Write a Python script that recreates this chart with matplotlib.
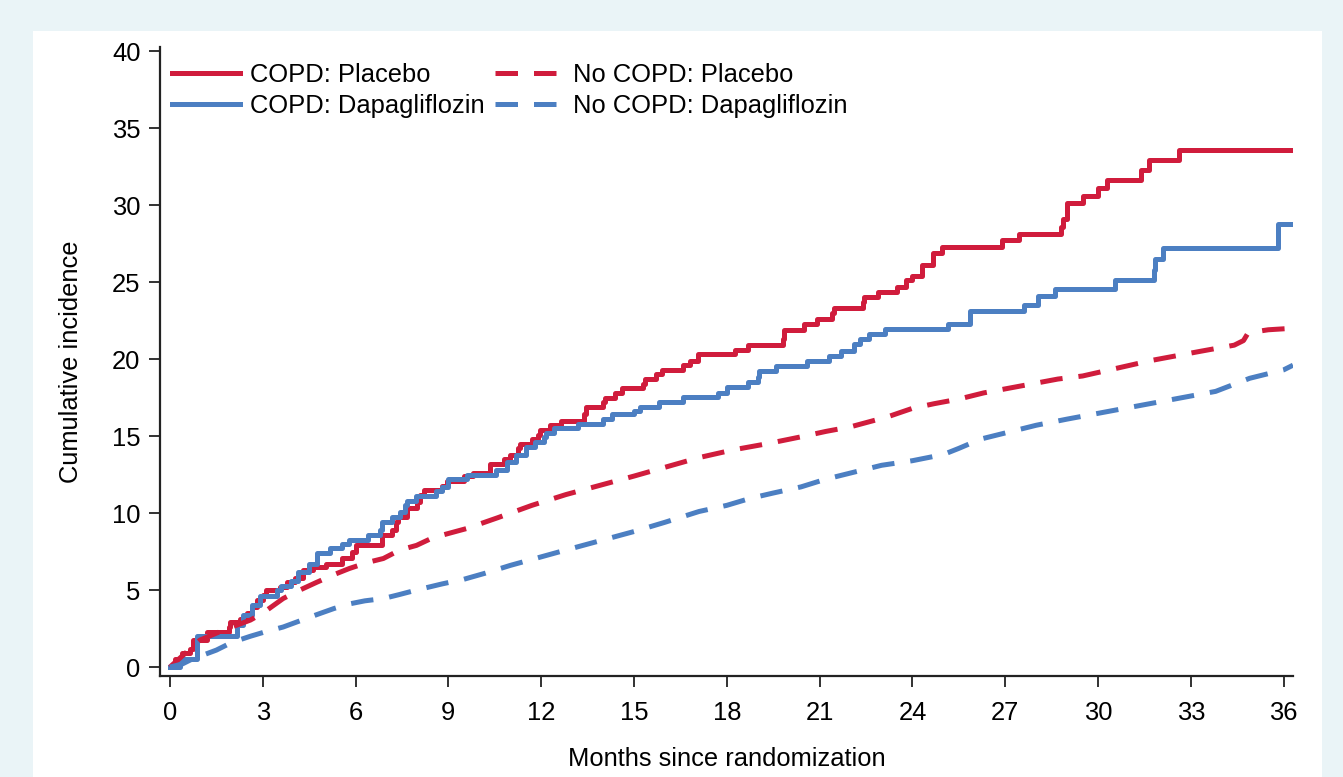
import numpy as np
import matplotlib
matplotlib.use("Agg")
import matplotlib.pyplot as plt
from matplotlib.patches import Rectangle

# ---------------------------------
# Data (months, cumulative incidence %)
# ---------------------------------
copd_pla_t = [0, 0.16, 0.38, 0.65, 0.75, 1.2, 1.9, 1.95, 2.26, 2.5, 2.64, 2.8, 3.0, 3.12,
              3.55, 3.8, 4.05, 4.3, 4.63, 5.06, 5.55, 5.9, 6.0, 6.84, 7.17, 7.3, 7.37, 7.65,
              8.0, 8.08, 8.2, 8.8, 8.95, 9.5, 9.8, 10.35, 10.8, 11.0, 11.25, 11.3, 11.7,
              11.9, 11.95, 12.3, 12.65, 13.4, 13.45, 14.0, 14.05, 14.4, 14.6, 15.3, 15.35,
              15.7, 15.9, 16.6, 16.8, 17.07, 18.26, 18.7, 19.8, 19.85, 20.5, 20.9, 21.4,
              21.45, 22.4, 22.45, 22.9, 23.5, 23.8, 24.0, 24.3, 24.65, 24.97, 26.9, 27.45,
              28.8, 28.85, 29.0, 29.5, 30.0, 30.3, 31.4, 31.65, 32.6, 36.3]
copd_pla_v = [0, 0.5, 0.9, 1.2, 1.75, 2.3, 2.6, 2.9, 3.15, 3.5, 3.9, 4.35, 4.7, 5.0,
              5.2, 5.55, 5.8, 6.3, 6.5, 6.7, 7.1, 7.5, 7.9, 8.6, 8.9, 9.4, 9.75, 10.3,
              10.7, 11.2, 11.5, 11.75, 12.1, 12.4, 12.6, 13.2, 13.5, 13.8, 14.2, 14.5, 14.8,
              15.1, 15.4, 15.7, 16.0, 16.4, 16.9, 17.2, 17.5, 17.8, 18.1, 18.4, 18.7,
              19.0, 19.3, 19.6, 19.9, 20.3, 20.6, 20.9, 21.3, 21.9, 22.3, 22.6, 23.0,
              23.3, 23.7, 24.0, 24.35, 24.7, 25.1, 25.4, 26.1, 26.9, 27.3, 27.7, 28.1,
              28.6, 29.1, 30.1, 30.6, 31.1, 31.6, 32.3, 32.9, 33.6, 33.6]

copd_dapa_t = [0, 0.32, 0.86, 2.17, 2.37, 2.64, 2.9, 3.45, 3.6, 3.9, 4.15, 4.5, 4.74, 5.17,
               5.55, 5.8, 6.4, 6.8, 6.85, 7.17, 7.43, 7.6, 7.65, 7.97, 8.6, 8.8, 8.98, 9.6,
               10.55, 10.9, 11.2, 11.5, 11.8, 12.1, 12.15, 12.4, 13.2, 14.0, 14.3, 15.0,
               15.2, 15.8, 16.6, 17.7, 18.0, 18.7, 19.0, 19.05, 19.6, 20.6, 21.3, 21.7,
               22.1, 22.3, 22.6, 23.1, 25.15, 25.85, 27.6, 28.05, 28.6, 30.55, 31.8, 31.85,
               32.1, 35.8, 36.3]
copd_dapa_v = [0, 0.55, 2.0, 2.7, 3.4, 4.0, 4.6, 5.0, 5.25, 5.6, 6.2, 6.7, 7.4, 7.7,
               8.0, 8.25, 8.6, 8.9, 9.4, 9.75, 10.1, 10.5, 10.8, 11.1, 11.4, 11.7, 12.2, 12.5,
               12.8, 13.3, 13.8, 14.3, 14.6, 14.95, 15.2, 15.5, 15.8, 16.1, 16.4, 16.65,
               16.9, 17.2, 17.55, 17.8, 18.2, 18.5, 18.85, 19.2, 19.55, 19.9, 20.2, 20.55,
               20.95, 21.3, 21.6, 21.97, 22.3, 23.1, 23.5, 24.1, 24.55, 25.1, 25.8, 26.5,
               27.2, 28.8, 28.8]

nocopd_pla_t = [0, 0.5, 0.97, 1.5, 2.0, 2.6, 3.0, 3.66, 4.2, 4.74, 5.3, 5.8, 6.4, 6.9, 7.43,
                7.97, 8.5, 9.05, 9.6, 10.6, 11.7, 12.8, 13.9, 15.0, 16.05, 17.1, 18.2, 19.3,
                20.4, 21.2, 22.0, 23.2, 24.0, 24.7, 25.5, 26.3, 27.1, 27.9, 28.7, 29.5,
                30.6, 31.7, 32.5, 33.3, 34.4, 34.7, 34.85, 35.5, 36.3]
nocopd_pla_v = [0, 0.9, 1.75, 2.2, 2.6, 3.05, 3.5, 4.45, 5.0, 5.5, 6.0, 6.4, 6.8, 7.05, 7.6,
                7.9, 8.4, 8.7, 9.0, 9.7, 10.5, 11.2, 11.8, 12.4, 13.0, 13.6, 14.1, 14.5,
                14.95, 15.3, 15.6, 16.25, 16.8, 17.1, 17.4, 17.8, 18.1, 18.4, 18.7, 18.9,
                19.4, 19.9, 20.2, 20.5, 20.9, 21.2, 21.7, 21.9, 22.0]

nocopd_dapa_t = [0, 0.4, 0.75, 1.1, 1.5, 2.0, 2.6, 3.1, 3.66, 4.2, 4.74, 5.3, 5.8, 6.3, 6.9,
                 7.4, 7.97, 8.8, 9.5, 10.2, 11.0, 11.9, 12.8, 13.9, 15.0, 16.0, 17.1, 18.0,
                 18.75, 19.5, 20.4, 21.2, 22.0, 23.0, 24.0, 25.0, 25.5, 26.2, 27.0, 28.0,
                 29.0, 30.6, 32.2, 33.8, 34.9, 36.0, 36.3]
nocopd_dapa_v = [0, 0.2, 0.55, 0.8, 1.1, 1.6, 2.0, 2.3, 2.6, 3.0, 3.4, 3.8, 4.1, 4.3, 4.45,
                 4.7, 5.0, 5.4, 5.7, 6.1, 6.6, 7.1, 7.6, 8.2, 8.8, 9.4, 10.1, 10.5,
                 10.95, 11.3, 11.7, 12.2, 12.6, 13.1, 13.4, 13.8, 14.2, 14.8, 15.2, 15.7,
                 16.1, 16.7, 17.3, 17.9, 18.75, 19.3, 19.6]

labels = ["COPD: Placebo", "COPD: Dapagliflozin", "No COPD: Placebo", "No COPD: Dapagliflozin"]
x_ticks = np.arange(0, 37, 3)
y_ticks = np.arange(0, 41, 5)

# ---------------------------------
# Style
# ---------------------------------
plt.rcParams['font.family'] = ['Liberation Sans', 'DejaVu Sans']
plt.rcParams['font.size'] = 18.4
red = '#D01C3C'
blue = '#4C7FC2'
bg = '#EAF4F7'

fig = plt.figure(figsize=(13.43, 7.77), dpi=100, facecolor=bg)
# white panel behind the plot
fig.patches.append(Rectangle((33 / 1343, 0), 1289 / 1343, 746 / 777,
                             transform=fig.transFigure, facecolor='white',
                             edgecolor='none', zorder=-10))
ax = fig.add_axes([160 / 1343, 1 - 676 / 777, 1133 / 1343, 629 / 777])
ax.set_facecolor('none')

lw = 3.6
ax.step(copd_pla_t, copd_pla_v, where='post', color=red, lw=lw, label=labels[0])
ax.step(copd_dapa_t, copd_dapa_v, where='post', color=blue, lw=lw, label=labels[1])
ax.plot(nocopd_pla_t, nocopd_pla_v, color=red, lw=lw, dashes=(4.5, 3.2), label=labels[2])
ax.plot(nocopd_dapa_t, nocopd_dapa_v, color=blue, lw=lw, dashes=(4.5, 3.2), label=labels[3])

ax.set_xlim(-0.32, 36.3)
ax.set_ylim(-0.58, 40.26)
ax.set_xticks(x_ticks)
ax.set_yticks(y_ticks)

for side in ['top', 'right']:
    ax.spines[side].set_visible(False)
for side in ['left', 'bottom']:
    ax.spines[side].set_linewidth(1.6)
    ax.spines[side].set_color('#222222')
ax.tick_params(axis='both', direction='out', length=8, width=1.3, color='#222222')
ax.tick_params(axis='x', pad=10)
ax.tick_params(axis='y', pad=6)

ax.set_xlabel("Months since randomization", labelpad=16)
ax.set_ylabel("Cumulative incidence", labelpad=21)

ax.legend(ncol=2, loc='upper left', bbox_to_anchor=(0.011, 0.974), frameon=False,
          handlelength=2.65, handletextpad=0.4, columnspacing=0.4,
          labelspacing=0.25, borderpad=0, borderaxespad=0)

plt.savefig('out.png', dpi=100, facecolor=bg)
